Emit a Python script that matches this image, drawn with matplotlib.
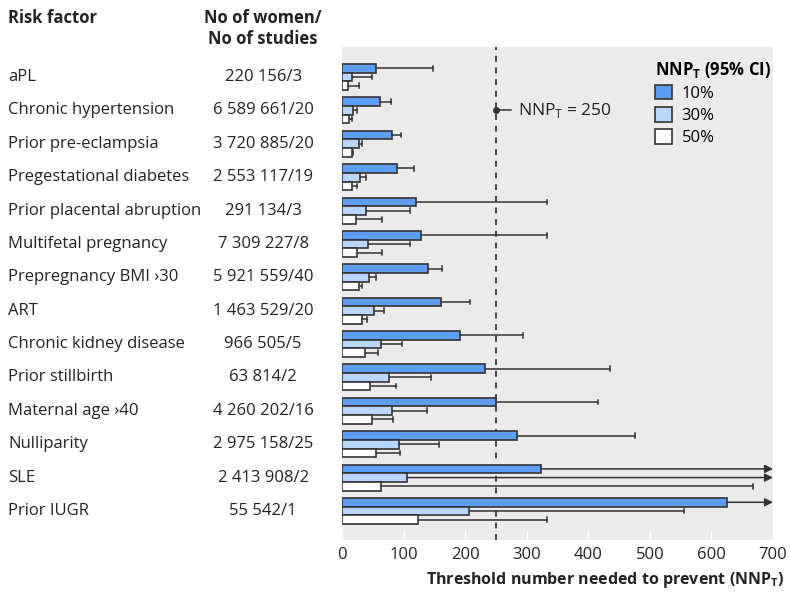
import matplotlib
matplotlib.use("Agg")
import matplotlib.pyplot as plt
import matplotlib.transforms as mtransforms
from matplotlib.patches import Patch
import numpy as np

FONT = "Open Sans"
plt.rcParams["font.family"] = [FONT, "DejaVu Sans"]
plt.rcParams["mathtext.fontset"] = "custom"
plt.rcParams["mathtext.rm"] = FONT
plt.rcParams["mathtext.bf"] = FONT + ":bold"

risk_factors = ["aPL", "Chronic hypertension", "Prior pre-eclampsia",
                "Pregestational diabetes", "Prior placental abruption",
                "Multifetal pregnancy", "Prepregnancy BMI \u203a30", "ART",
                "Chronic kidney disease", "Prior stillbirth",
                "Maternal age \u203a40", "Nulliparity", "SLE", "Prior IUGR"]
women_studies = ["220 156/3", "6 589 661/20", "3 720 885/20", "2 553 117/19",
                 "291 134/3", "7 309 227/8", "5 921 559/40", "1 463 529/20",
                 "966 505/5", "63 814/2", "4 260 202/16", "2 975 158/25",
                 "2 413 908/2", "55 542/1"]

# NNP_T point estimates and upper 95% CI (np.inf = beyond axis, drawn as arrow)
nnp_10 = [56, 62, 82, 90, 121, 128, 140, 160, 191, 233, 250, 285, 323, 625]
upper_10 = [147, 79, 96, 117, 333, 333, 163, 208, 294, 435, 416, 476, np.inf, np.inf]
nnp_30 = [17, 18, 27, 29, 39, 42, 44, 52, 63, 77, 82, 93, 106, 207]
upper_30 = [48, 25, 32, 39, 110, 110, 55, 69, 98, 144, 138, 158, np.inf, 555]
nnp_50 = [10, 12, 16, 17, 23, 24, 28, 32, 38, 45, 49, 56, 63, 124]
upper_50 = [28, 16, 18, 24, 65, 65, 32, 41, 58, 87, 83, 94, 667, 333]

threshold = 250
xmax = 700

series = [("10%", nnp_10, upper_10, "#5e9df5"),
          ("30%", nnp_30, upper_30, "#b8d6ff"),
          ("50%", nnp_50, upper_50, "#ffffff")]

FS = 12

fig = plt.figure(figsize=(7.9, 5.98), dpi=100)
ax = fig.add_axes([0.4329, 0.097, 0.5456, 0.8244])
ax.set_facecolor("#ebebeb")

y = np.arange(len(risk_factors))
h = 0.26
edge = "#333333"
for k, (lab, vals, upp, col) in enumerate(series):
    yy = y + (k - 1) * h
    ax.barh(yy, vals, height=h, color=col, edgecolor=edge, linewidth=1.2,
            zorder=3)
    for yi, v, u in zip(yy, vals, upp):
        if np.isfinite(u):
            ax.plot([v, u], [yi, yi], color=edge, lw=1.1, zorder=2)
            ax.plot([u, u], [yi - 0.07, yi + 0.07], color=edge, lw=1.1, zorder=2)
        else:
            ax.annotate("", xy=(xmax, yi), xytext=(v, yi),
                        arrowprops=dict(arrowstyle="-|>", color=edge, lw=1.1,
                                        mutation_scale=12, shrinkA=0, shrinkB=0),
                        zorder=2, annotation_clip=False)

ax.axvline(threshold, color="#444444", lw=1.4, ls=(0, (3, 3)), zorder=1)
ax.plot([threshold], [1], "o", color="#333333", ms=4, zorder=4)
ax.plot([threshold, threshold + 24], [1, 1], color="#333333", lw=1.1, zorder=4)
ax.text(threshold + 36, 1, r"NNP$_\mathregular{T}$ = 250", va="center",
        ha="left", fontsize=12.5, color="#222222")

ax.set_xlim(0, xmax)
ax.set_ylim(len(risk_factors) - 1 + 0.87, -0.9)
ax.set_yticks([])
ax.set_xticks(range(0, xmax + 1, 100))
ax.tick_params(axis="x", direction="in", length=7, color="white",
               labelsize=FS, labelcolor="#222222", pad=5)
for s in ax.spines.values():
    s.set_visible(False)

# left-hand table
tr = mtransforms.blended_transform_factory(fig.transFigure, ax.transData)
for yi, rf, ws in zip(y, risk_factors, women_studies):
    fig.text(0.010, yi, rf, transform=tr, va="center", ha="left",
             fontsize=FS, color="#222222")
    fig.text(0.333, yi, ws, transform=tr, va="center", ha="center",
             fontsize=FS, color="#222222")
fig.text(0.010, 0.970, "Risk factor", fontweight="bold", fontsize=FS,
         va="center", ha="left", color="#222222")
fig.text(0.333, 0.953, "No of women/\nNo of studies", fontweight="bold",
         fontsize=FS, va="center", ha="center", color="#222222",
         linespacing=1.2)

handles = [Patch(facecolor=c, edgecolor=edge, linewidth=1.2, label=l)
           for l, _, _, c in series]
leg = ax.legend(handles=handles, title=r"NNP$_\mathbf{T}$ (95% CI)",
                loc="upper right", bbox_to_anchor=(1.03, 1.005), frameon=False,
                fontsize=FS, title_fontproperties={"weight": "bold", "size": FS},
                alignment="left", handlelength=1.0, handleheight=1.0,
                handletextpad=0.6, labelspacing=0.3)

fig.text(0.993, 0.030, r"Threshold number needed to prevent (NNP$_\mathbf{T}$)",
         fontweight="bold", fontsize=11.5, ha="right", va="center",
         color="#222222")

fig.savefig("out.png", dpi=100)
